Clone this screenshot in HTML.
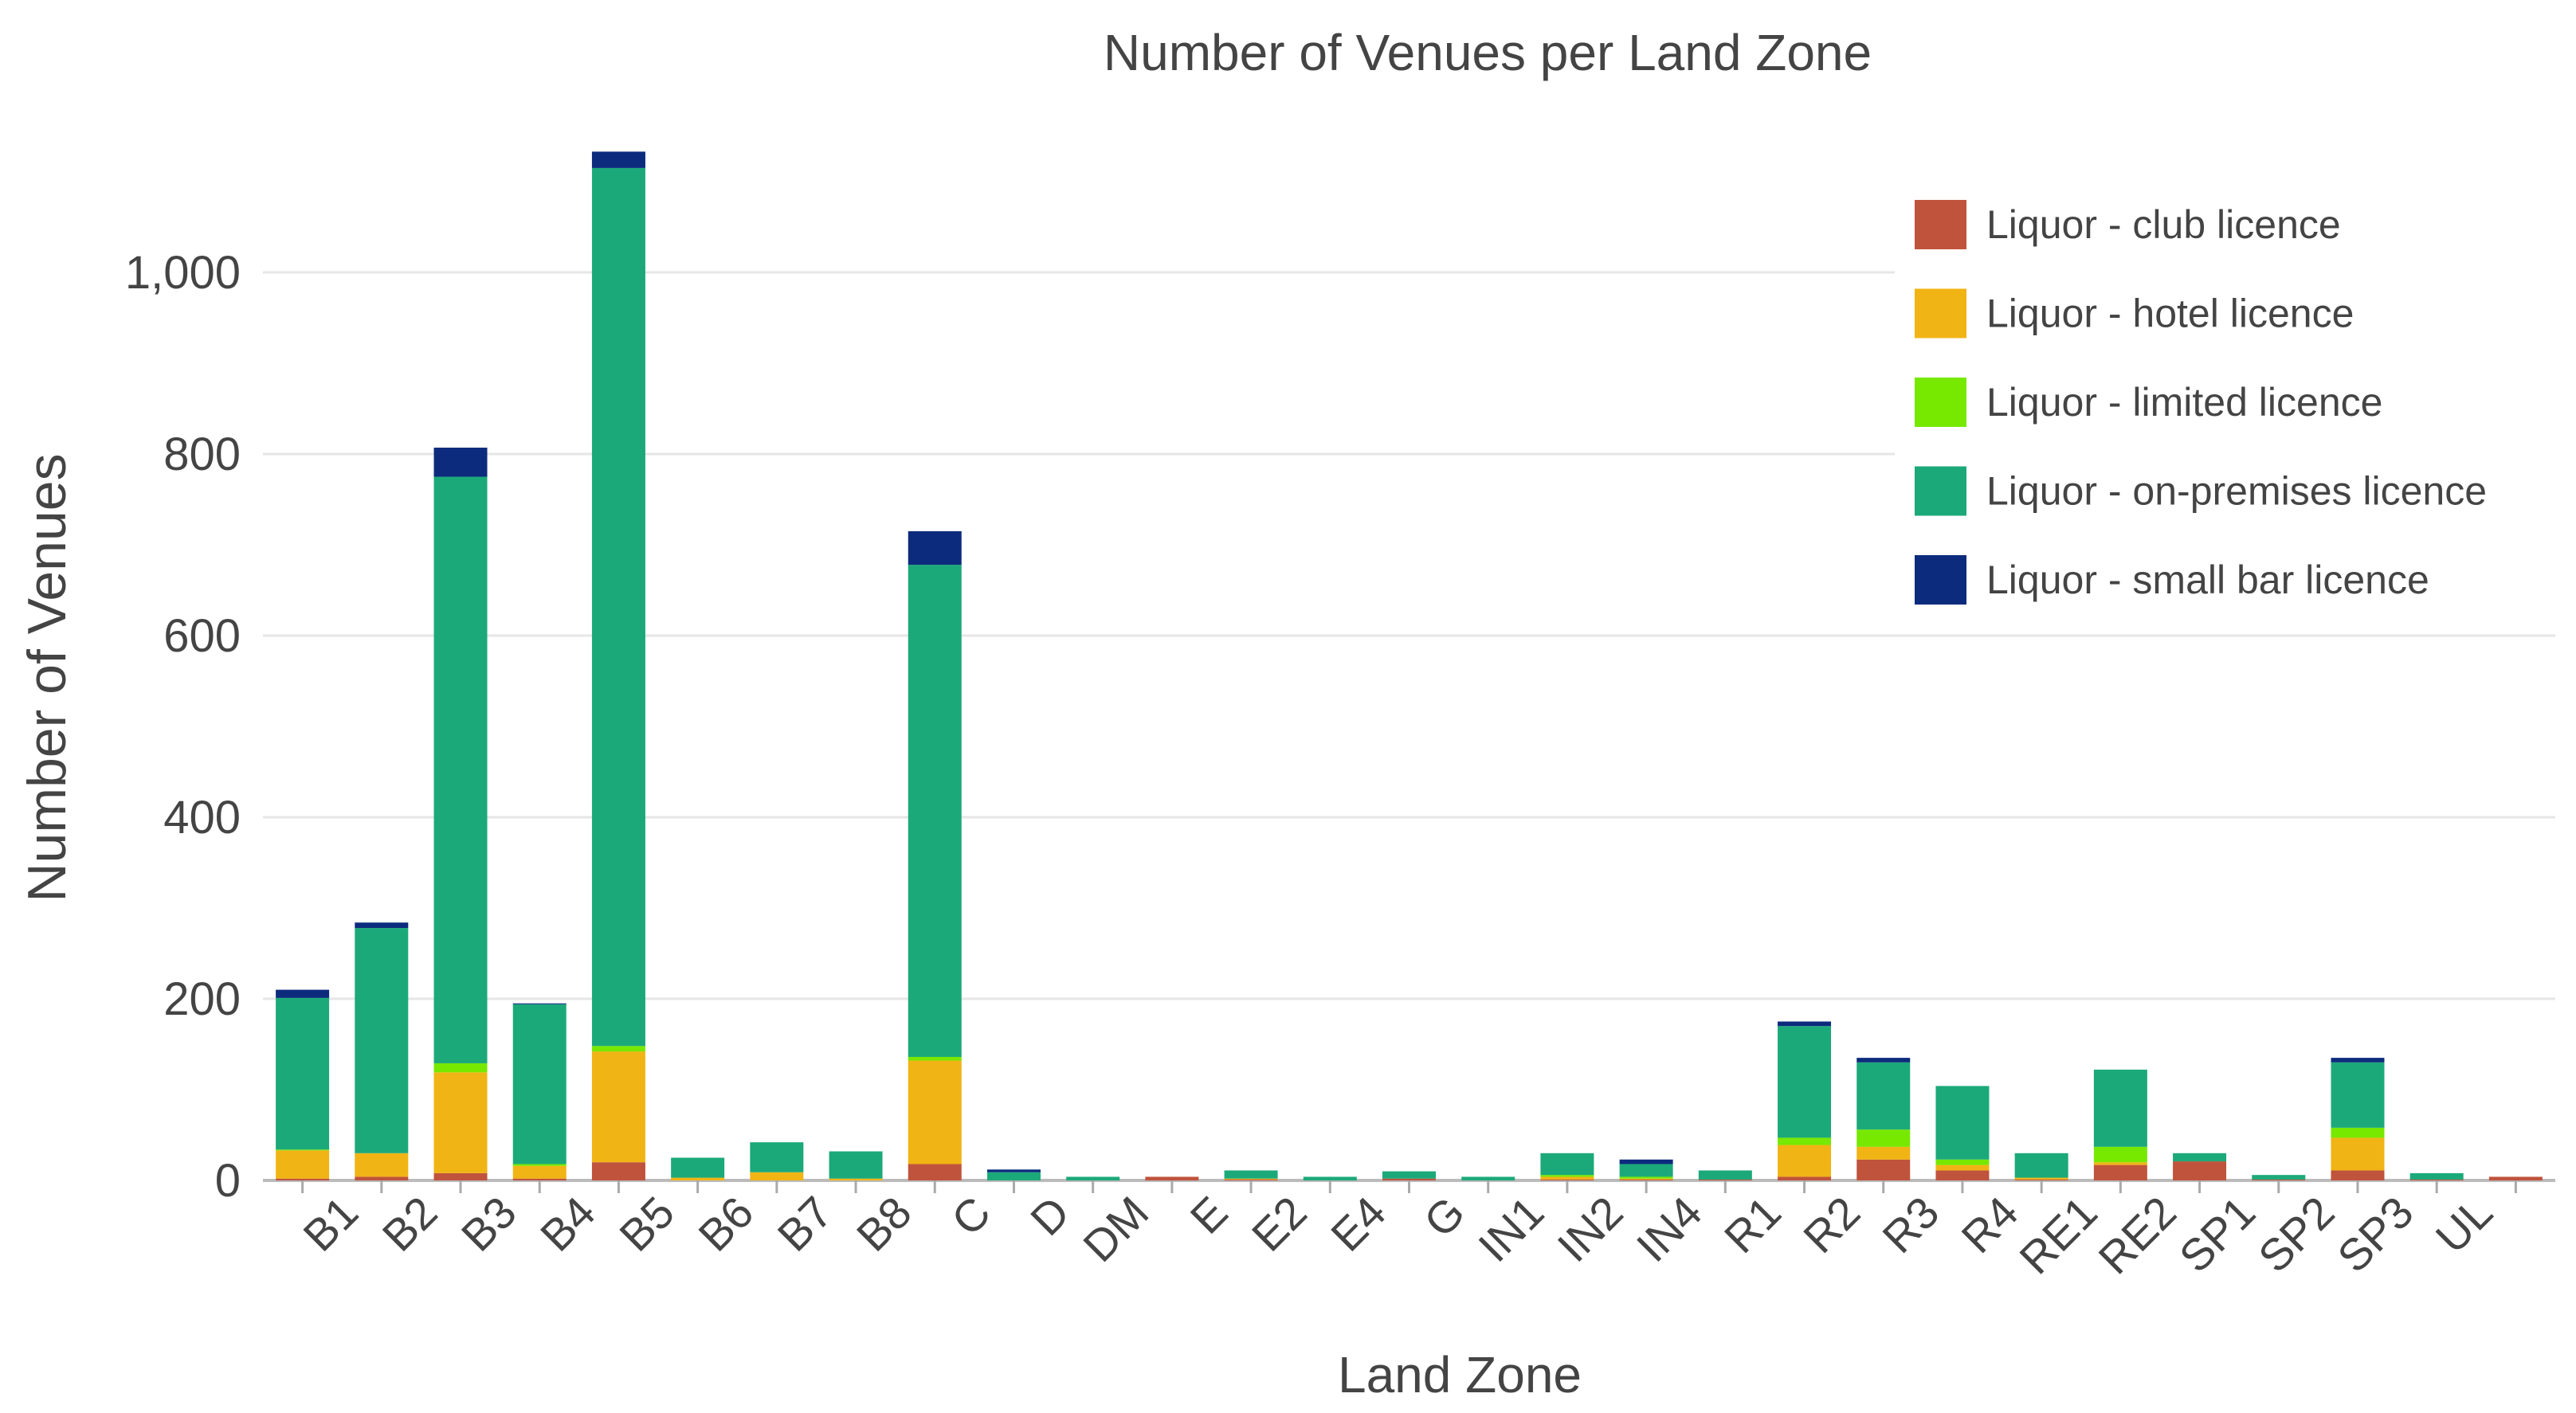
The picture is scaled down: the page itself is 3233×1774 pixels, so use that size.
<!DOCTYPE html>
<html><head><meta charset="utf-8"><style>
html,body{margin:0;padding:0;background:#fff;}
svg{display:block;font-family:"Liberation Sans",sans-serif;}
</style></head><body>
<svg id="chart" width="3233" height="1774" xmlns="http://www.w3.org/2000/svg">
<text x="1867" y="88" font-size="64" fill="#444" text-anchor="middle">Number of Venues per Land Zone</text>
<text x="0" y="0" font-size="68" fill="#444" text-anchor="middle" transform="translate(82,851) rotate(-90)">Number of Venues</text>
<text x="1832" y="1748" font-size="64" fill="#444" text-anchor="middle">Land Zone</text>
<g id="grid"></g><g id="bars"></g><g id="xaxis"></g><g id="legend"></g>
</svg>
<script>
const labels=["","B1","B2","B3","B4","B5","B6","B7","B8","C","D","DM","E","E2","E4","G","IN1","IN2","IN4","R1","R2","R3","R4","RE1","RE2","SP1","SP2","SP3","UL"];
const seriesNames=["Liquor - club licence","Liquor - hotel licence","Liquor - limited licence","Liquor - on-premises licence","Liquor - small bar licence"];
const club   =[2,4,8,2,20,0,0,0,18,0,0,4,1,0,2,0,1,1,1,4,23,11,1,17,21,1,11,1,4];
const hotel  =[31,26,111,14,122,3,9,2,114,0,0,0,1,0,0,0,3,1,0,35,14,6,2,3,0,0,36,0,0];
const limited=[1,0,10,2,6,0,0,0,4,0,0,0,0,0,0,0,2,2,0,8,19,6,0,17,0,0,11,0,0];
const onprem =[167,248,646,176,967,22,33,30,542,9,4,0,9,4,8,4,24,14,10,123,74,81,27,85,9,5,72,7,0];
const small  =[9,6,32,1,18,0,0,0,37,3,0,0,0,0,0,0,0,5,0,5,5,0,0,0,0,0,5,0,0];
const yTicks=[0,200,400,600,800,1000];
const yTickLabels=["0","200","400","600","800","1,000"];
</script>
<script>
const NS="http://www.w3.org/2000/svg";
const colors=["#c0533c","#f0b414","#77e800","#1ca97a","#0c2b7c"];
const series=[club,hotel,limited,onprem,small];
const X0=330,X1=3207,Y0=1482,PX=1.14;
const n=labels.length,band=(X1-X0)/n,bw=67;
function xc(i){return X0+band*(i+0.5);}
function y(v){return Y0-v*PX;}
function mk(t,a,p){const e=document.createElementNS(NS,t);for(const k in a)e.setAttribute(k,a[k]);p.appendChild(e);return e;}
const grid=document.getElementById('grid');
yTicks.forEach((v,i)=>{
  const l=mk('line',{x1:X0,x2:X1,y1:y(v),y2:y(v),stroke:v===0?'#bbb':'#e6e6e6','stroke-width':v===0?4:3},grid);
  
  
  const t=mk('text',{x:302,y:y(v)+20,'font-size':58,fill:'#444','text-anchor':'end'},grid);
  t.textContent=yTickLabels[i];
  
  
});
const bars=document.getElementById('bars');
for(let i=0;i<n;i++){
  let acc=0;
  for(let s=0;s<series.length;s++){
    const v=series[s][i]||0;
    if(v<=0)continue;
    const r=mk('rect',{x:xc(i)-bw/2,y:y(acc+v),width:bw,height:v*PX,fill:colors[s]},bars);
    
    
    acc+=v;
  }
}
const xa=document.getElementById('xaxis');
for(let i=0;i<n;i++){
  const tk=mk('line',{x1:xc(i),x2:xc(i),y1:Y0,y2:Y0+16,stroke:'#aaa','stroke-width':3},xa);
  
  
  const t=mk('text',{x:0,y:0,'font-size':56,fill:'#444','text-anchor':'end',transform:`translate(${xc(i)-26},${Y0+44}) rotate(-45)`},xa);
  t.textContent=labels[i];
  
  
}
const lg=document.getElementById('legend');
const bg=mk('rect',{x:2378,y:225,width:840,height:560,fill:'#fff'},lg);


seriesNames.forEach((nm,s)=>{
  const cy=282+s*111.5;
  const g=mk('g',{},lg);
  
  
  mk('rect',{x:2403,y:cy-31,width:65,height:62,fill:colors[s]},g);
  const t=mk('text',{x:2493,y:cy+17,'font-size':50,fill:'#444'},g);
  t.textContent=nm;
});
</script>
</body></html>
